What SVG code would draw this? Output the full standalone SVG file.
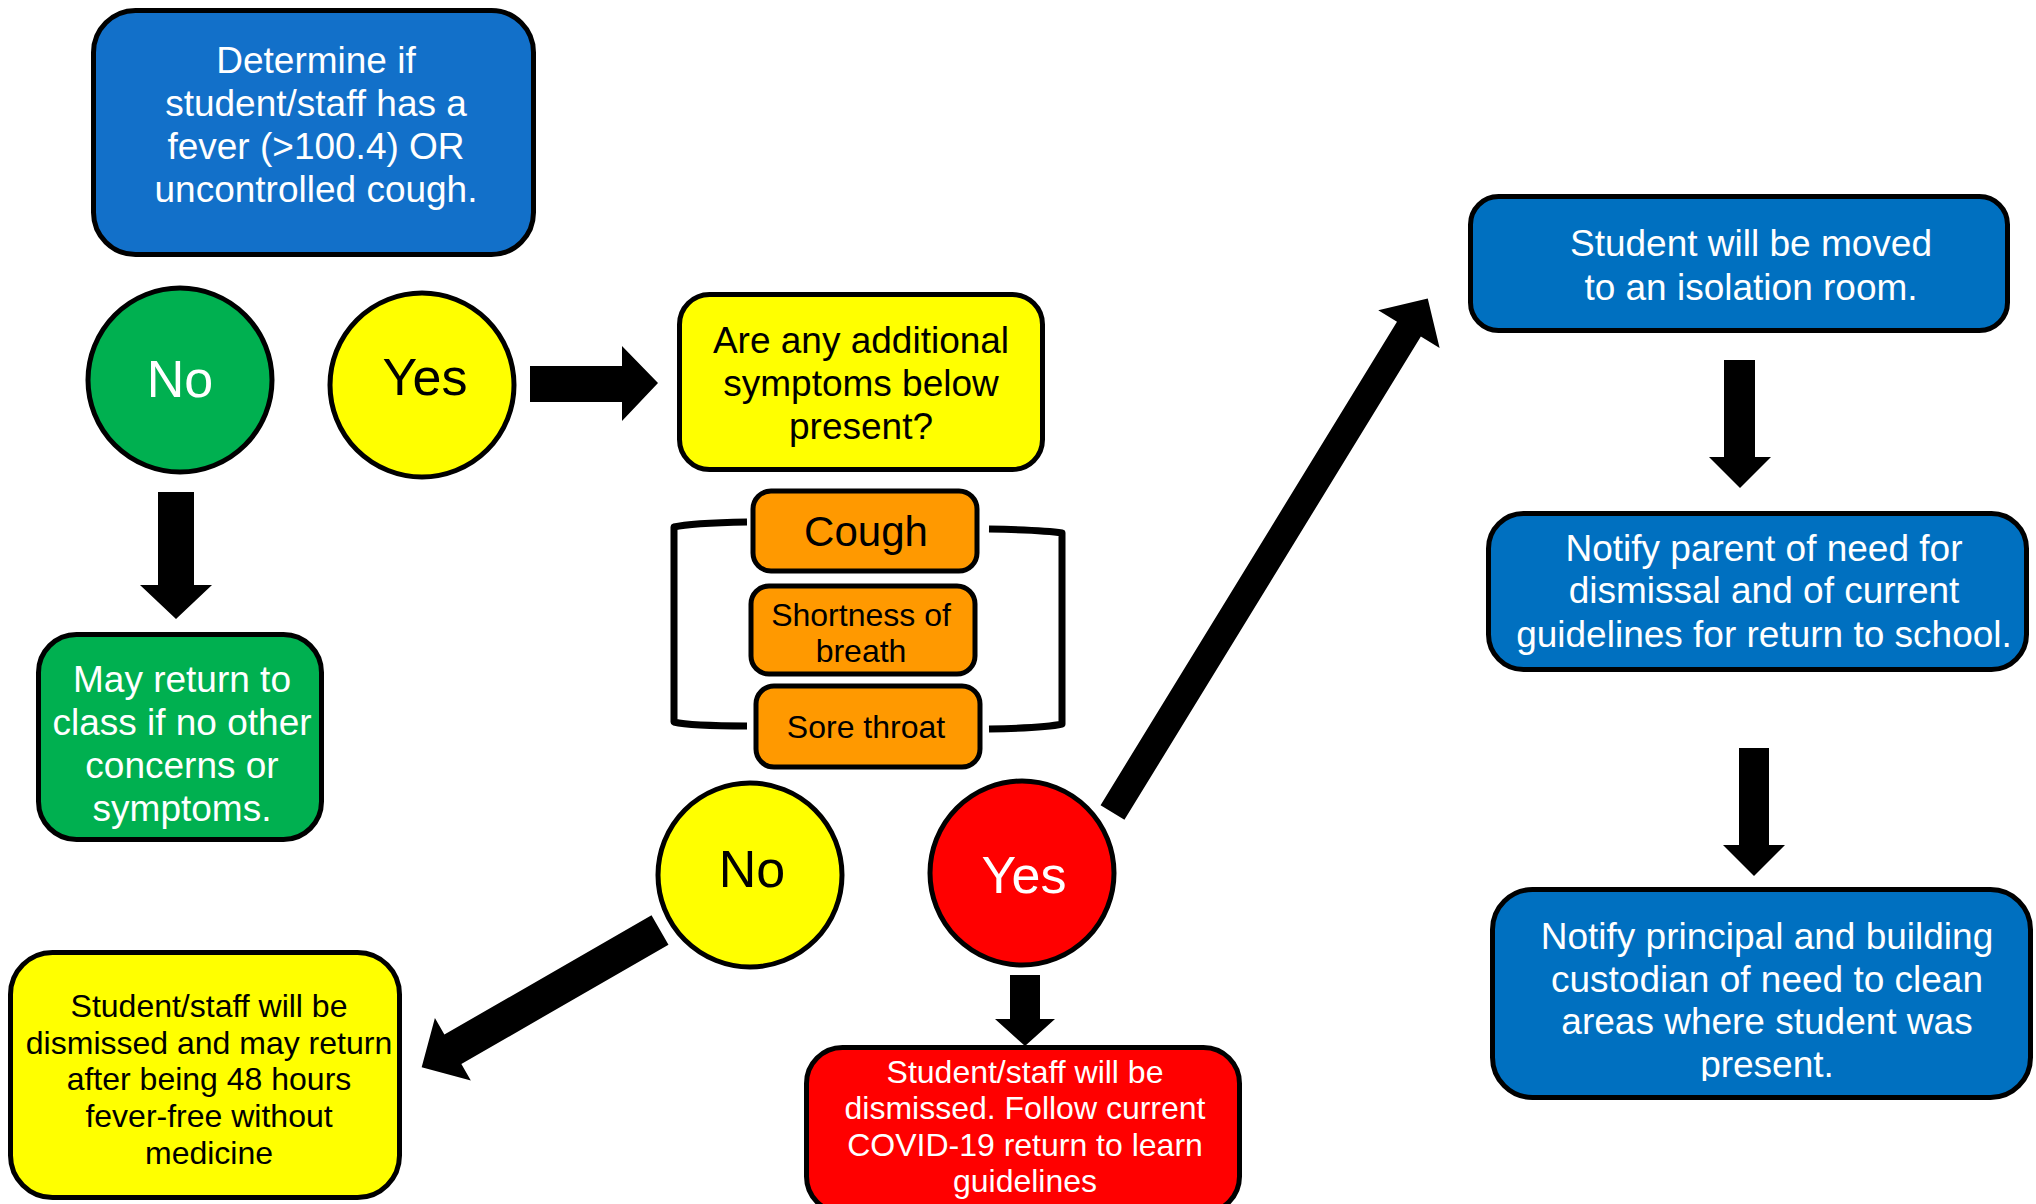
<svg xmlns="http://www.w3.org/2000/svg" width="2036" height="1204" viewBox="0 0 2036 1204">
<style>
.box{stroke:#000;stroke-width:5}
.t{font-family:"Liberation Sans",Arial,sans-serif;text-anchor:middle}
.w{fill:#fff}
.k{fill:#000}
.arrow{fill:#000;stroke:none}
.br{fill:none;stroke:#000;stroke-width:7;stroke-linejoin:round}
</style>
<defs>
<clipPath id="clip3"><rect x="1480" y="880" width="560" height="201"/></clipPath>
</defs>
<rect width="2036" height="1204" fill="#fff"/>

<g id="connectors">
<polygon class="arrow" points="530,366 622,366 622,346 658,383 622,421 622,402 530,402"/>
<polygon class="arrow" points="158,492 194,492 194,585 212,585 176,619 140,585 158,585"/>
<polygon class="arrow" transform="translate(660,930) rotate(150.07)" points="0,-17 239,-17 239,-36 275,0 239,36 239,17 0,17"/>
<polygon class="arrow" points="1010,975 1040,975 1040,1019 1055,1019 1025,1046 995,1019 1010,1019"/>
<polygon class="arrow" transform="translate(1112.5,812.5) rotate(-58.48)" points="0,-14 567,-14 567,-36 603,0 567,36 567,14 0,14"/>
<polygon class="arrow" points="1724,360 1755,360 1755,457 1771,457 1740,488 1709,457 1724,457"/>
<polygon class="arrow" points="1739,748 1769,748 1769,845 1785,845 1754,876 1723,845 1739,845"/>
</g>

<g id="brackets">
<path class="br" d="M747,522 Q690,523 674,527 L674,722 Q690,726 747,726"/>
<path class="br" d="M989,529 Q1045,530 1062,533 L1062,724 Q1045,728 989,729"/>
</g>

<g id="n-determine">
<rect class="box" x="93.5" y="10.5" width="440" height="244" rx="42" fill="#1270C9"/>
<text class="t w" font-size="37"><tspan x="316" y="73">Determine if</tspan><tspan x="316" y="116">student/staff has a</tspan><tspan x="316" y="159">fever (&gt;100.4) OR</tspan><tspan x="316" y="202">uncontrolled cough.</tspan></text>
</g>

<g id="n-no1">
<circle class="box" cx="180" cy="380" r="92" fill="#00B050"/>
<text class="t w" font-size="52" x="180" y="397">No</text>
</g>

<g id="n-yes1">
<circle class="box" cx="422" cy="385" r="92" fill="#FFFF00"/>
<text class="t k" font-size="52" x="425" y="395">Yes</text>
</g>

<g id="n-question">
<rect class="box" x="679.5" y="294.5" width="363" height="175" rx="30" fill="#FFFF00"/>
<text class="t k" font-size="37"><tspan x="861" y="353">Are any additional</tspan><tspan x="861" y="396">symptoms below</tspan><tspan x="861" y="439">present?</tspan></text>
</g>

<g id="n-cough">
<rect class="box" x="753" y="491" width="224" height="80" rx="18" fill="#FF9900"/>
<text class="t k" font-size="42" x="866" y="546">Cough</text>
</g>

<g id="n-breath">
<rect class="box" x="751" y="586" width="224" height="88" rx="18" fill="#FF9900"/>
<text class="t k" font-size="32"><tspan x="861" y="626">Shortness of</tspan><tspan x="861" y="662">breath</tspan></text>
</g>

<g id="n-throat">
<rect class="box" x="756" y="686" width="224" height="81" rx="18" fill="#FF9900"/>
<text class="t k" font-size="32" x="866" y="738">Sore throat</text>
</g>

<g id="n-return">
<rect class="box" x="38.5" y="634.5" width="283" height="205" rx="38" fill="#00B050"/>
<text class="t w" font-size="37"><tspan x="182" y="692">May return to</tspan><tspan x="182" y="735">class if no other</tspan><tspan x="182" y="778">concerns or</tspan><tspan x="182" y="821">symptoms.</tspan></text>
</g>

<g id="n-no2">
<circle class="box" cx="750" cy="875" r="92" fill="#FFFF00"/>
<text class="t k" font-size="52" x="752" y="887">No</text>
</g>

<g id="n-yes2">
<circle class="box" cx="1022" cy="873" r="92" fill="#FF0000"/>
<text class="t w" font-size="52" x="1024" y="893">Yes</text>
</g>

<g id="n-dismiss48">
<rect class="box" x="10.5" y="952.5" width="389" height="245" rx="42" fill="#FFFF00"/>
<text class="t k" font-size="32"><tspan x="209" y="1017">Student/staff will be</tspan><tspan x="209" y="1054">dismissed and may return</tspan><tspan x="209" y="1090">after being 48 hours</tspan><tspan x="209" y="1127">fever-free without</tspan><tspan x="209" y="1164">medicine</tspan></text>
</g>

<g id="n-dismisscovid">
<rect class="box" x="806.5" y="1047.5" width="433" height="165" rx="36" fill="#FF0000"/>
<text class="t w" font-size="32"><tspan x="1025" y="1083">Student/staff will be</tspan><tspan x="1025" y="1119">dismissed. Follow current</tspan><tspan x="1025" y="1156">COVID-19 return to learn</tspan><tspan x="1025" y="1192">guidelines</tspan></text>
</g>

<g id="n-isolation">
<rect class="box" x="1470.5" y="196.5" width="537" height="134" rx="28" fill="#0070C0"/>
<text class="t w" font-size="37"><tspan x="1751" y="256">Student will be moved</tspan><tspan x="1751" y="300">to an isolation room.</tspan></text>
</g>

<g id="n-parent">
<rect class="box" x="1488.5" y="513.5" width="538" height="156" rx="35" fill="#0070C0"/>
<text class="t w" font-size="37"><tspan x="1764" y="561">Notify parent of need for</tspan><tspan x="1764" y="603">dismissal and of current</tspan><tspan x="1764" y="647">guidelines for return to school.</tspan></text>
</g>

<g id="n-principal">
<rect class="box" x="1492.5" y="889.5" width="538" height="208" rx="40" fill="#0070C0"/>
<text class="t w" font-size="37" clip-path="url(#clip3)"><tspan x="1767" y="949">Notify principal and building</tspan><tspan x="1767" y="992">custodian of need to clean</tspan><tspan x="1767" y="1034">areas where student was</tspan><tspan x="1767" y="1077">present.</tspan></text>
</g>
</svg>
